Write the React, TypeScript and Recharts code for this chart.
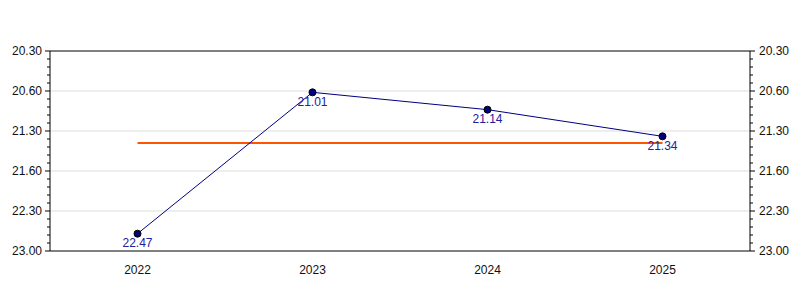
import { LineChart, Line, XAxis, YAxis, ReferenceLine, LabelList } from 'recharts';

const years = ['2022', '2023', '2024', '2025'];
const timeLabels = ['22.47', '21.01', '21.14', '21.34'];
// average level of the orange line, in minutes
const avgLine = [21.65, 21.65, 21.65, 21.65];

const majorTicks = [20.5, 21, 21.5, 22, 22.5, 23];
const majorTickLabels = ['20.30', '20.60', '21.30', '21.60', '22.30', '23.00'];

const toMinutes = (s: string) => {
  const [m, sec] = s.split('.');
  return Number(m) + Number(sec) / 60;
};

const data = years.map((year, i) => ({
  year,
  time: toMinutes(timeLabels[i]),
  label: timeLabels[i],
  avg: avgLine[i],
}));

// minor ticks every 1/10 minute, majors every half minute
const allTicks = Array.from({ length: 26 }, (_, i) => Math.round((20.5 + i * 0.1) * 10) / 10);

const FONT = '"Liberation Sans", Arial, sans-serif';

const majorLabel = (v: number) => {
  const idx = majorTicks.findIndex((t) => Math.abs(t - v) < 1e-6);
  return idx >= 0 ? majorTickLabels[idx] : null;
};

const AxisTick = ({ x, y, payload, side }: any) => {
  const label = majorLabel(payload.value);
  const gap = 8;
  const axisX = side === 'left' ? x + gap : x - gap;
  const len = label ? 5 : 3;
  const x2 = side === 'left' ? axisX - len : axisX + len;
  return (
    <g>
      <line x1={axisX} y1={y} x2={x2} y2={y} stroke="#000" strokeWidth={1} />
      {label && (
        <text
          x={side === 'left' ? x : x + 1}
          y={y}
          dy="0.35em"
          textAnchor={side === 'left' ? 'end' : 'start'}
          fill="#111"
          fontSize={12}
          fontFamily={FONT}
        >
          {label}
        </text>
      )}
    </g>
  );
};

const App = () => {
  return (
    <div style={{ position: 'absolute', top: 0, left: 0 }}>
      <LineChart width={800} height={300} data={data} margin={{ top: 51, right: 0, left: 0, bottom: 19 }}>
        <XAxis
          dataKey="year"
          scale="band"
          tickLine={false}
          tickMargin={8}
          axisLine={{ stroke: '#000' }}
          tick={{ fill: '#111', fontSize: 12, fontFamily: FONT }}
          height={30}
        />
        <YAxis
          yAxisId="left"
          orientation="left"
          type="number"
          domain={[20.5, 23]}
          reversed
          ticks={allTicks}
          interval={0}
          width={50}
          tickSize={5}
          tickMargin={3}
          tickLine={false}
          axisLine={{ stroke: '#000' }}
          allowDataOverflow
          tick={(p: any) => <AxisTick {...p} side="left" />}
        />
        <YAxis
          yAxisId="right"
          orientation="right"
          type="number"
          domain={[20.5, 23]}
          reversed
          ticks={allTicks}
          interval={0}
          width={50}
          tickSize={5}
          tickMargin={3}
          tickLine={false}
          axisLine={{ stroke: '#000' }}
          allowDataOverflow
          tick={(p: any) => <AxisTick {...p} side="right" />}
        />
        {majorTicks.slice(1, -1).map((v) => (
          <ReferenceLine key={v} yAxisId="left" y={v} stroke="#dddddd" strokeWidth={1} />
        ))}
        <ReferenceLine yAxisId="left" y={20.5} stroke="#000" strokeWidth={1} />
        <Line
          yAxisId="left"
          dataKey="avg"
          stroke="#ff5500"
          strokeWidth={2}
          dot={false}
          isAnimationActive={false}
        />
        <Line
          yAxisId="left"
          dataKey="time"
          type="linear"
          stroke="#000080"
          strokeWidth={1}
          dot={{ r: 3.5, fill: '#000080', stroke: '#000', strokeWidth: 1 }}
          isAnimationActive={false}
        >
          <LabelList
            dataKey="label"
            position="bottom"
            offset={5}
            fill="#2020a0"
            fontSize={12}
            fontFamily={FONT}
          />
        </Line>
      </LineChart>
    </div>
  );
};

export default App;
